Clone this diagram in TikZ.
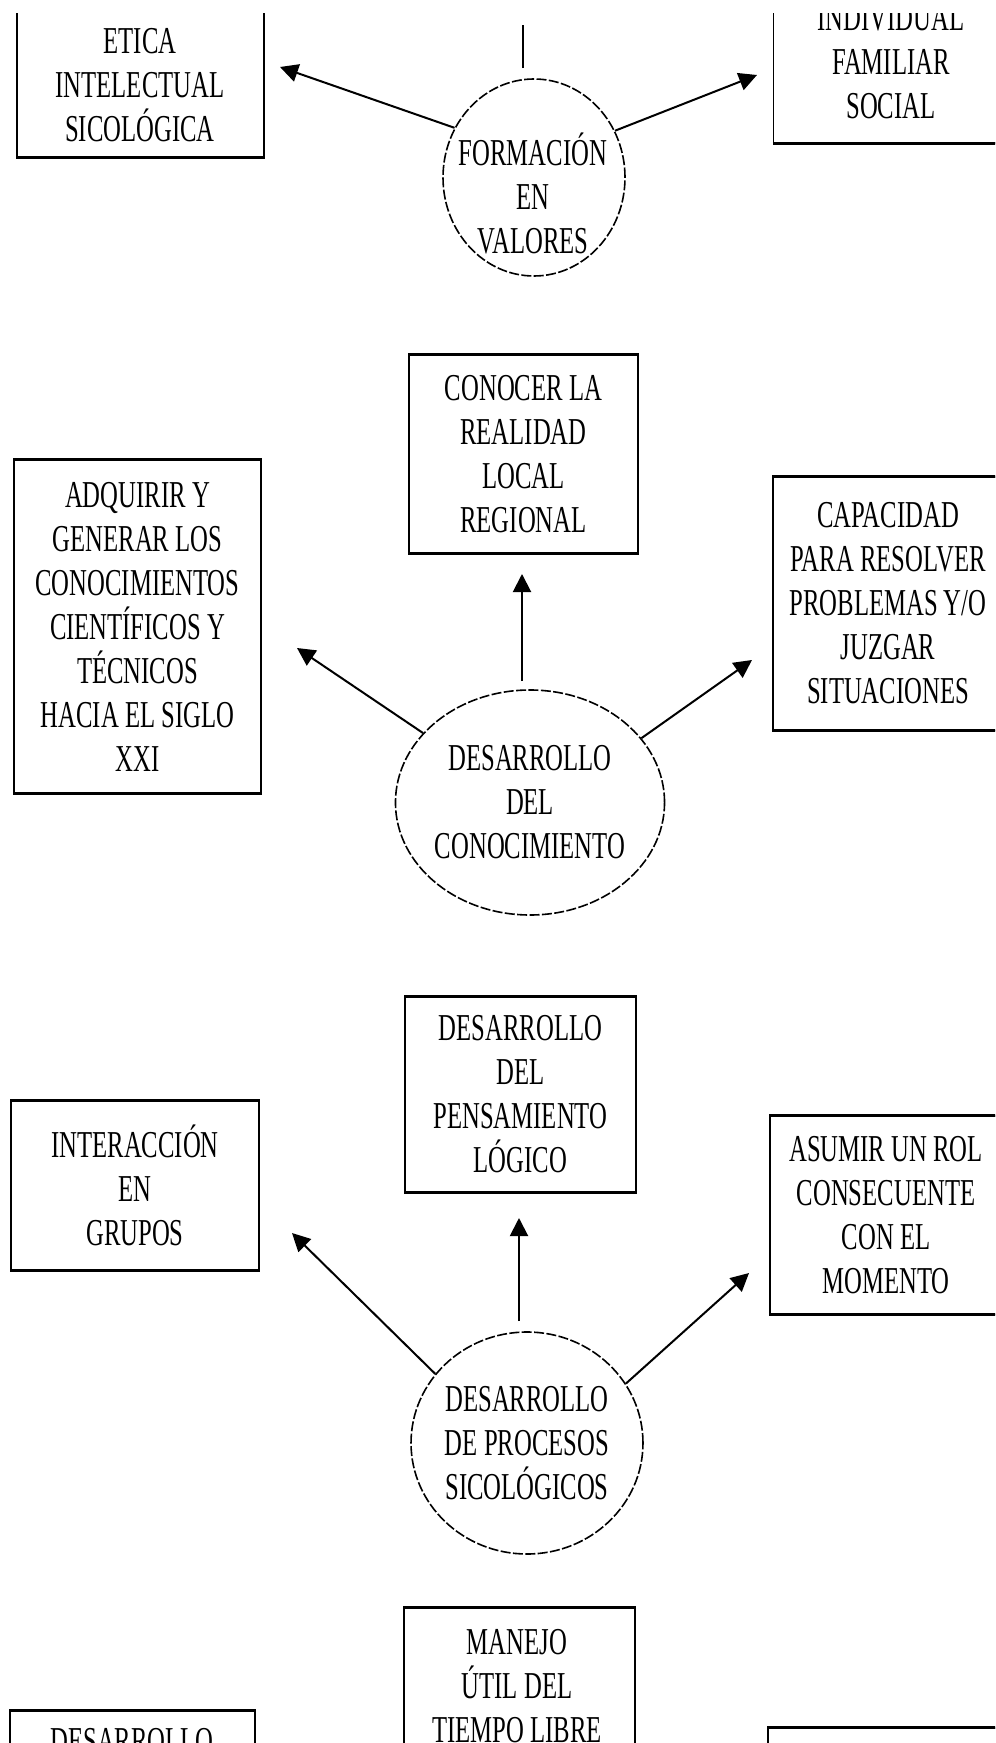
\documentclass[tikz,border=0pt]{standalone}
\usepackage{fontspec}
\setmainfont{Liberation Serif}[FakeStretch=0.65]
\usetikzlibrary{shapes.geometric,arrows.meta,calc}
\begin{document}
\begin{tikzpicture}[x=0.5pt,y=-0.5pt,
  txt/.style={font=\fontsize{19}{22}\selectfont, align=center, inner sep=0pt},
  boxn/.style={draw, line width=0.6pt, rectangle, inner sep=0pt, txt},
  ell/.style={draw, ellipse, inner sep=0pt, line width=0.8pt, dash pattern=on 5pt off 1.2pt, txt},
  arr/.style={line width=1pt, -{Triangle[length=9pt,width=9pt]}},
  conn/.style={line width=1pt},
  edge/.style={line width=1.1pt}]
\useasboundingbox (0,0) rectangle (995,1743);
\clip (0,14) rectangle (995,1743);

% ---------- section 1 ----------
\node[boxn, minimum width=123.5pt, minimum height=108.5pt] (b1) at (140.5,48.5) {};
\node[txt] (t1) at (140,85) {ETICA\\INTELECTUAL\\SICOLÓGICA};
\node[boxn, minimum width=117.5pt, minimum height=101.5pt] (b2) at (891,41.5) {};
\node[txt] (t2) at (891,62) {INDIVIDUAL\\FAMILIAR\\SOCIAL};
\node[ell, minimum width=91pt, minimum height=98.5pt] (e1) at (534,177.5) {};
\node[txt] (e1t) at (533,193) {FORMACIÓN\\EN\\VALORES};

\coordinate (u1) at (523,25);
\coordinate (t1l) at (280,67);
\coordinate (t1r) at (757,75);
\draw[conn] ($(e1.north)+(-11,-10)$) -- (u1);
\draw[arr] (e1.148) -- (t1l);
\draw[arr] (e1.30) -- (t1r);

% ---------- section 2 ----------
\node[boxn, minimum width=114.5pt, minimum height=99pt] (b3) at (523.5,454)
  {CONOCER LA\\REALIDAD\\LOCAL\\REGIONAL};
\node[boxn, minimum width=123.5pt, minimum height=166.5pt] (b4) at (137.5,626.5)
  {ADQUIRIR Y\\GENERAR LOS\\CONOCIMIENTOS\\CIENTÍFICOS Y\\TÉCNICOS\\HACIA EL SIGLO\\XXI};
\node[boxn, minimum width=115pt, minimum height=126.5pt] (b5) at (888,603.5)
  {CAPACIDAD\\PARA RESOLVER\\PROBLEMAS Y/O\\JUZGAR\\SITUACIONES};
\node[ell, minimum width=124pt, minimum height=112.5pt] (e2) at (530,802.5)
  {DESARROLLO\\DEL\\CONOCIMIENTO};

\coordinate (t2u) at (522,574);
\coordinate (t2l) at (297,648);
\coordinate (t2r) at (752,660);
\draw[arr] ($(e2.north)+(-8,-8)$) -- (t2u);
\draw[arr] (e2.147) -- (t2l);
\draw[arr] (e2.30) -- (t2r);

% ---------- section 3 ----------
\node[boxn, minimum width=115.5pt, minimum height=97.5pt] (b6) at (520.5,1094.5)
  {DESARROLLO\\DEL\\PENSAMIENTO\\LÓGICO};
\node[boxn, minimum width=124pt, minimum height=84.5pt] (b7) at (135,1185.5)
  {INTERACCIÓN\\EN\\GRUPOS};
\node[boxn, minimum width=116pt, minimum height=99pt] (b8) at (886,1215)
  {ASUMIR UN ROL\\CONSECUENTE\\CON EL\\MOMENTO};
\node[ell, minimum width=107.5pt, minimum height=111pt] (e3) at (527,1443)
  {DESARROLLO\\DE PROCESOS\\SICOLÓGICOS};

\coordinate (t3u) at (519,1218);
\coordinate (t3l) at (292,1233);
\coordinate (t3r) at (749,1273);
\draw[arr] ($(e3.north)+(-8,-10)$) -- (t3u);
\draw[arr] (e3.143) -- (t3l);
\draw[arr] (e3.31) -- (t3r);

% ---------- section 4 (cut off) ----------
\node[boxn, minimum width=115.5pt, minimum height=96pt] (b9) at (519.5,1704) {};
\node[txt] (t9) at (517,1686) {MANEJO\\ÚTIL DEL\\TIEMPO LIBRE};
\node[boxn, minimum width=122.5pt, minimum height=94.5pt] (b10) at (132.5,1805.5) {};
\node[txt] (t10) at (132,1741) {DESARROLLO};
\node[boxn, minimum width=117.5pt, minimum height=100pt] (b11) at (885.5,1828) {};

% heavier top and bottom edges of the boxes
\foreach \b in {b1,b2,b3,b4,b5,b6,b7,b8,b9,b10,b11}{
  \draw[edge] (\b.north west) -- (\b.north east) (\b.south west) -- (\b.south east);
}
\end{tikzpicture}
\end{document}
